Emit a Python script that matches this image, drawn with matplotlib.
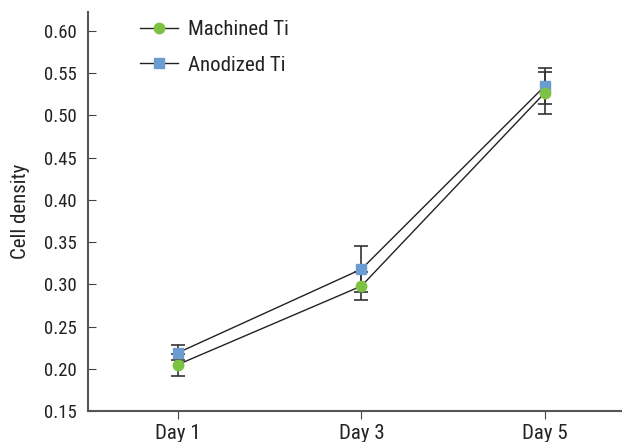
import matplotlib
matplotlib.use("Agg")
import matplotlib.pyplot as plt
from matplotlib import font_manager
from matplotlib.font_manager import FontProperties

# pick a condensed font if one is installed
fp_path = None
prefs = ['RobotoCondensed-Regular', 'LiberationSansNarrow-Regular', 'OpenSans_Condensed-Regular',
         'OpenSansCondensed', 'DejaVuSansCondensed.ttf']
files = [f.fname for f in font_manager.fontManager.ttflist]
for p in prefs:
    hits = [f for f in files if p in f]
    if hits:
        fp_path = hits[0]
        break

def fprop(size):
    if fp_path:
        return FontProperties(fname=fp_path, size=size)
    return FontProperties(family='DejaVu Sans', size=size)

days = ["Day 1", "Day 3", "Day 5"]
machined = [0.205, 0.298, 0.527]
machined_err_lo = [0.013, 0.017, 0.025]
machined_err_hi = [0.013, 0.017, 0.024]
anodized = [0.219, 0.318, 0.535]
anodized_err_lo = [0.009, 0.027, 0.021]
anodized_err_hi = [0.009, 0.027, 0.021]
yticks = [0.15, 0.20, 0.25, 0.30, 0.35, 0.40, 0.45, 0.50, 0.55, 0.60]

FS = 15
FSD = 13.5
TXT = '#222222'
fig = plt.figure(figsize=(6.22, 4.42), dpi=100)
ax = fig.add_axes([0.1415, 0.0701, 0.8585, 0.9027])
x = list(range(len(days)))

ax.errorbar(x, machined, yerr=[machined_err_lo, machined_err_hi], fmt='none',
            ecolor='#333333', elinewidth=1.2, capsize=5, capthick=1.2, zorder=1)
ax.errorbar(x, anodized, yerr=[anodized_err_lo, anodized_err_hi], fmt='none',
            ecolor='#333333', elinewidth=1.2, capsize=5, capthick=1.2, zorder=1)
ax.plot(x, machined, color='#222222', lw=1.0, marker='o', markersize=7.5,
        markerfacecolor='#7DC242', markeredgecolor='#7DC242', label='Machined Ti', zorder=3)
ax.plot(x, anodized, color='#222222', lw=1.0, marker='s', markersize=7,
        markerfacecolor='#6A9BD1', markeredgecolor='#6A9BD1', label='Anodized Ti', zorder=2)

ax.set_xlim(-0.49, 2.42)
ax.set_ylim(0.15, 0.6225)
ax.set_xticks(x)
ax.set_xticklabels(days, fontproperties=fprop(FS), color=TXT)
ax.set_yticks(yticks)
ax.set_yticklabels([f"{v:.2f}" for v in yticks], fontproperties=fprop(FSD), color=TXT)
ax.tick_params(axis='y', direction='in', length=6, color='#444444', pad=8)
ax.tick_params(axis='x', direction='out', length=6, color='#444444', pad=3)
for s in ['top', 'right']:
    ax.spines[s].set_visible(False)
for s in ['left', 'bottom']:
    ax.spines[s].set_color('#555555')
    ax.spines[s].set_linewidth(1.5)
ax.set_ylabel("Cell density", fontproperties=fprop(FS), labelpad=10, color=TXT)

leg = ax.legend(loc='upper left', bbox_to_anchor=(0.062, 1.027), frameon=False,
                prop=fprop(FS), handlelength=1.85, labelspacing=0.8, handletextpad=0.45)
for t in leg.get_texts():
    t.set_color(TXT)

fig.savefig("out.png", dpi=100)
